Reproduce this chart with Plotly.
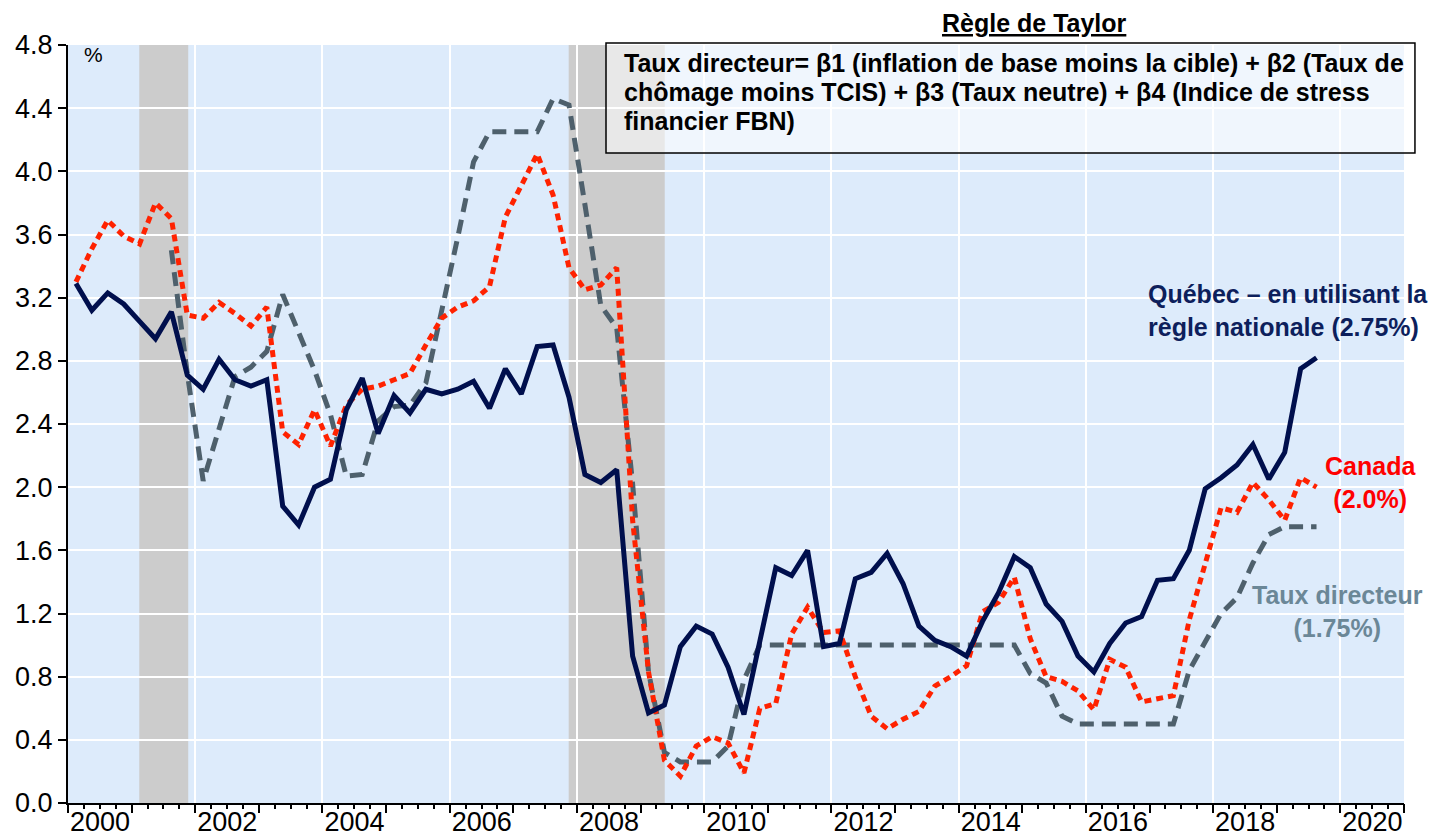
import plotly.graph_objects as go

# ---------------- data ----------------
start_year = 2000
n_quarters = 79  # 2000T1 .. 2019T3
quarters = [f"{start_year + i // 4}T{i % 4 + 1}" for i in range(n_quarters)]

quebec = [3.29, 3.12, 3.23, 3.16, 3.05, 2.94, 3.11, 2.71, 2.62, 2.81,
          2.68, 2.64, 2.68, 1.88, 1.76, 2.00, 2.05, 2.49, 2.69, 2.34,
          2.58, 2.47, 2.62, 2.59, 2.62, 2.67, 2.50, 2.75, 2.59, 2.89,
          2.90, 2.57, 2.08, 2.03, 2.11, 0.93, 0.57, 0.62, 0.99, 1.12,
          1.07, 0.86, 0.56, 1.02, 1.49, 1.44, 1.60, 0.99, 1.01, 1.42,
          1.46, 1.58, 1.39, 1.12, 1.03, 0.99, 0.93, 1.15, 1.33, 1.56,
          1.49, 1.26, 1.15, 0.93, 0.83, 1.01, 1.14, 1.18, 1.41, 1.42,
          1.60, 1.99, 2.06, 2.14, 2.27, 2.05, 2.22, 2.75, 2.82]

canada = [3.30, 3.51, 3.69, 3.59, 3.54, 3.80, 3.70, 3.09, 3.07, 3.17,
          3.10, 3.02, 3.14, 2.35, 2.27, 2.49, 2.26, 2.52, 2.62, 2.64,
          2.68, 2.72, 2.90, 3.07, 3.14, 3.18, 3.27, 3.71, 3.91, 4.11,
          3.85, 3.39, 3.25, 3.28, 3.39, 1.79, 0.83, 0.27, 0.17, 0.36,
          0.42, 0.38, 0.19, 0.60, 0.63, 1.07, 1.24, 1.08, 1.09, 0.80,
          0.55, 0.47, 0.53, 0.58, 0.74, 0.80, 0.87, 1.21, 1.27, 1.43,
          1.04, 0.80, 0.77, 0.71, 0.59, 0.91, 0.86, 0.64, 0.66, 0.68,
          1.16, 1.52, 1.87, 1.84, 2.03, 1.92, 1.79, 2.06, 2.00]

taux_directeur = [None] * 6 + [
          3.50, 2.72, 2.04, 2.37, 2.70, 2.76, 2.86, 3.22, 2.97, 2.74,
          2.46, 2.07, 2.08, 2.42, 2.51, 2.52, 2.66, 3.11, 3.58, 4.06,
          4.25, 4.25, 4.25, 4.25, 4.46, 4.42, 3.79, 3.15, 3.01, 2.02,
          0.83, 0.32, 0.26, 0.26, 0.26, 0.36, 0.78, 1.00, 1.00, 1.00,
          1.00, 1.00, 1.00, 1.00, 1.00, 1.00, 1.00, 1.00, 1.00, 1.00,
          1.00, 1.00, 1.00, 1.00, 0.82, 0.76, 0.55, 0.50, 0.50, 0.50,
          0.50, 0.50, 0.50, 0.50, 0.84, 1.02, 1.20, 1.30, 1.52, 1.70,
          1.75, 1.75, 1.75]

recession_start = [2001.12, 2007.87]
recession_end = [2001.89, 2009.38]

year_ticks = list(range(2000, 2022))
label_years = list(range(2000, 2021, 2))
y_ticks = [0.0, 0.4, 0.8, 1.2, 1.6, 2.0, 2.4, 2.8, 3.2, 3.6, 4.0, 4.4, 4.8]

box_lines = ["Taux directeur= β1 (inflation de base moins la cible) + β2 (Taux de",
             "chômage moins TCIS) + β3 (Taux neutre) + β4 (Indice de stress",
             "financier FBN)"]

# ---------------- helpers ----------------
def qpos(q):
    y, t = q.split("T")
    return int(y) + (int(t) - 0.5) / 4.0

x = [qpos(q) for q in quarters]

FONT = "Liberation Sans, Arial, sans-serif"
NAVY = "#000F4D"
RED = "#FF2200"
SLATE = "#4E606C"

fig = go.Figure()

fig.add_trace(go.Scatter(x=x, y=taux_directeur, mode="lines", name="Taux directeur",
                         line=dict(color=SLATE, width=5, dash="14px,8px"),
                         connectgaps=False, showlegend=False))
fig.add_trace(go.Scatter(x=x, y=canada, mode="lines", name="Canada",
                         line=dict(color=RED, width=5, dash="7px,5px"),
                         showlegend=False))
fig.add_trace(go.Scatter(x=x, y=quebec, mode="lines", name="Québec",
                         line=dict(color=NAVY, width=5), showlegend=False))
# attach the tick-only overlay axis
fig.add_trace(go.Scatter(x=[year_ticks[0], year_ticks[-1]], y=[None, None], xaxis="x2",
                         mode="lines", showlegend=False, hoverinfo="skip"))

for s, e in zip(recession_start, recession_end):
    fig.add_shape(type="rect", xref="x", yref="paper", x0=s, x1=e, y0=0, y1=1,
                  fillcolor="#CCCCCC", line=dict(width=0), layer="below")

# formula box
fig.add_shape(type="rect", xref="paper", yref="paper", x0=0.4027, x1=1.0082,
              y0=0.8575, y1=1.0026, fillcolor="rgba(255,255,255,0.55)",
              line=dict(color="black", width=1.5), layer="above")
for line_txt, yp in zip(box_lines, [0.9763, 0.9380, 0.9001]):
    fig.add_annotation(xref="paper", yref="paper", x=0.4147, y=yp, text=f"<b>{line_txt}</b>",
                       showarrow=False, xanchor="left", yanchor="middle",
                       font=dict(family=FONT, size=25, color="black"))

# title
fig.add_annotation(xref="paper", yref="paper", x=0.7238, y=1.0290,
                   text="<b><u>Règle de Taylor</u></b>", showarrow=False,
                   xanchor="center", yanchor="middle", borderpad=0,
                   font=dict(family=FONT, size=25, color="black"))

# % unit
fig.add_annotation(xref="paper", yref="paper", x=0.0105, y=0.988, text="%",
                   showarrow=False, xanchor="left", yanchor="middle",
                   font=dict(family=FONT, size=21, color="black"))

# series labels
fig.add_annotation(x=2016.94, y=3.116, text="<b>Québec – en utilisant la<br>règle nationale (2.75%)</b>",
                   showarrow=False, xanchor="left", yanchor="middle", align="left",
                   font=dict(family=FONT, size=25, color="#0D1F5C"))
fig.add_annotation(x=2020.47, y=2.03, text="<b>Canada<br>(2.0%)</b>",
                   showarrow=False, xanchor="center", yanchor="middle", align="center",
                   font=dict(family=FONT, size=25, color="#FF0000"))
fig.add_annotation(x=2019.95, y=1.215, text="<b>Taux directeur<br>(1.75%)</b>",
                   showarrow=False, xanchor="center", yanchor="middle", align="center",
                   font=dict(family=FONT, size=25, color="#6B8797"))

# the page body adds an 8px offset, so margins are shifted to compensate
fig.update_layout(
    width=1436, height=838,
    margin=dict(l=60, r=40, t=37, b=43, autoexpand=False),
    paper_bgcolor="white",
    plot_bgcolor="#DDEBFB",
    showlegend=False,
    xaxis=dict(range=[2000, 2021], tickmode="array", tickvals=label_years,
               ticktext=[str(y) for y in label_years], ticks="",
               ticklabelshift=32, ticklabelstandoff=-6, automargin=False,
               showgrid=True, gridcolor="white", gridwidth=2,
               showline=True, linecolor="black", linewidth=2, zeroline=False,
               tickfont=dict(family=FONT, size=27, color="black")),
    xaxis2=dict(range=[2000, 2021], overlaying="x", anchor="y", side="bottom",
                tickmode="array", tickvals=year_ticks, ticks="outside", ticklen=9,
                tickwidth=2, tickcolor="black", showticklabels=False, showgrid=False,
                zeroline=False, showline=False, automargin=False,
                minor=dict(dtick=0.25, tick0=2000, ticks="outside", ticklen=5,
                           tickwidth=1.5, tickcolor="black", showgrid=False)),
    yaxis=dict(range=[0, 4.8], tickmode="array", tickvals=y_ticks,
               ticktext=[f"{v:.1f}" for v in y_ticks], ticks="outside", ticklen=8,
               tickwidth=2, tickcolor="black", automargin=False,
               showgrid=True, gridcolor="white", gridwidth=2, zeroline=False,
               showline=True, linecolor="black", linewidth=2,
               tickfont=dict(family=FONT, size=27, color="black")),
)

fig.write_html("out.html")
